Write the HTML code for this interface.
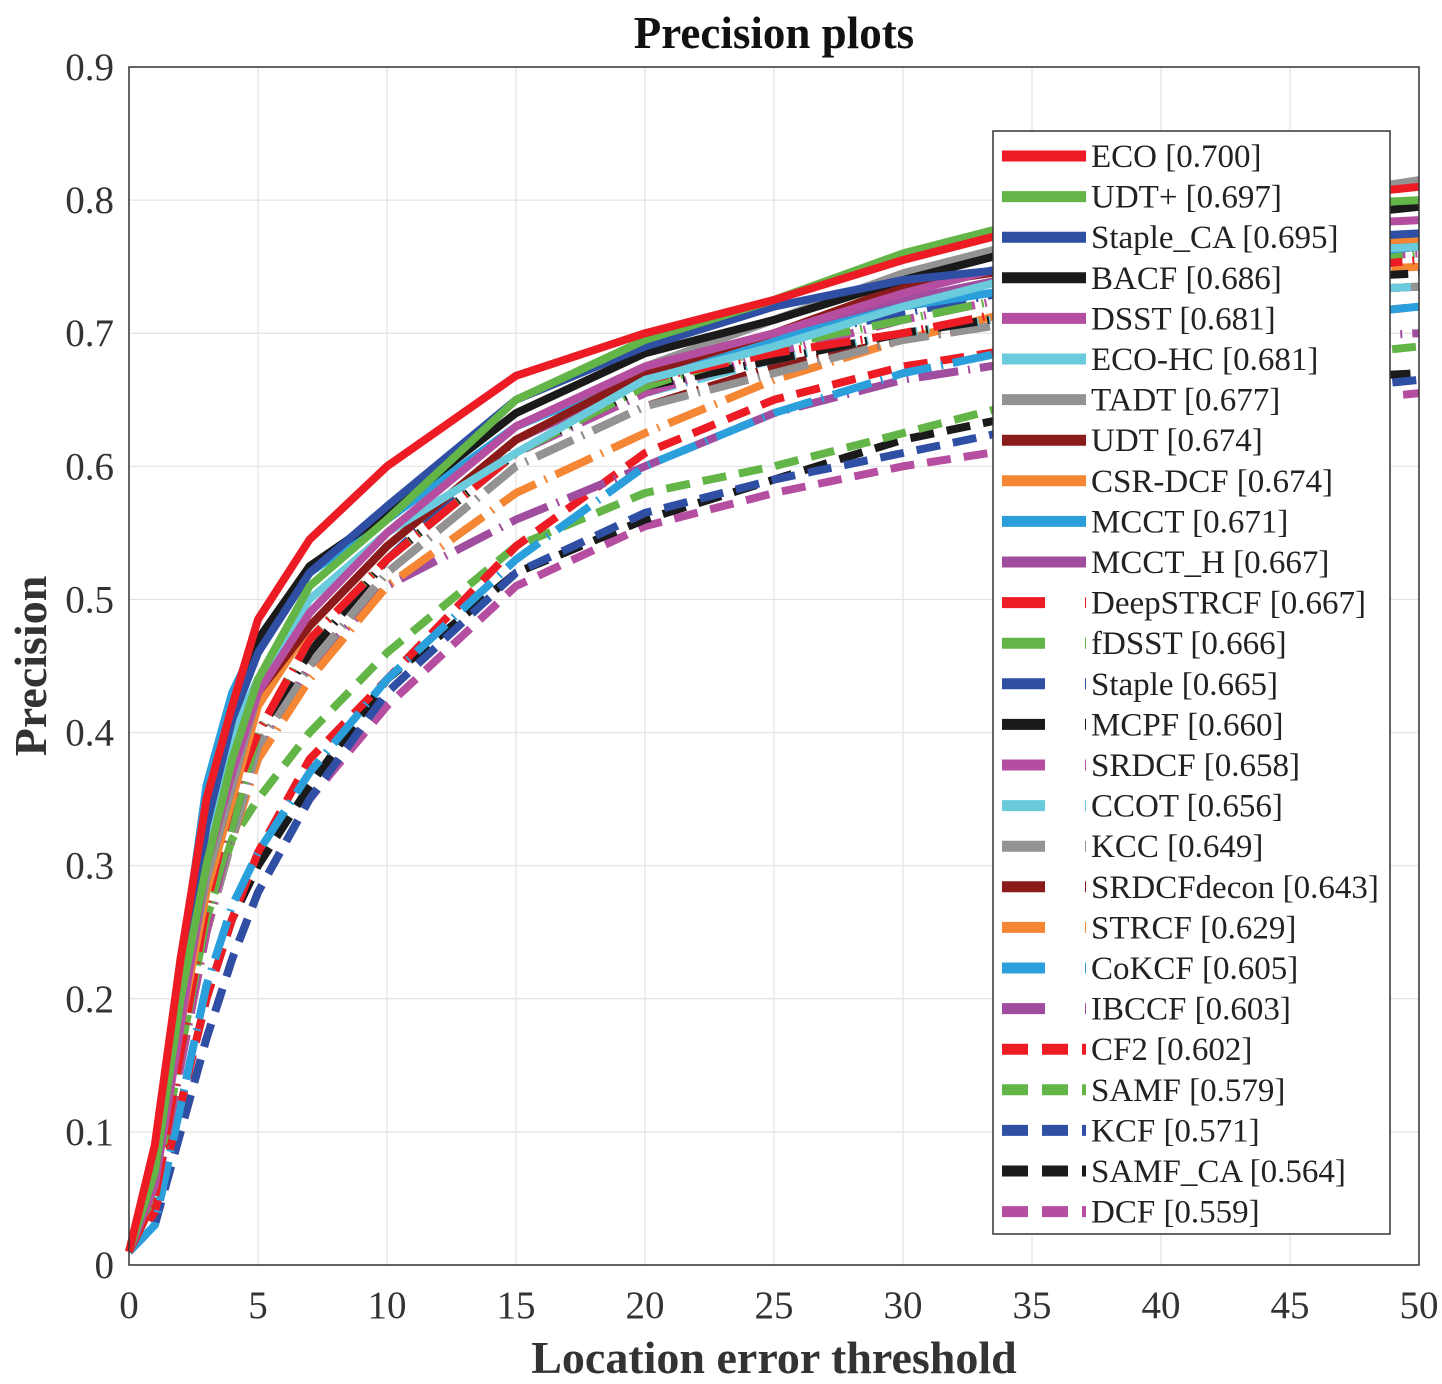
<!DOCTYPE html>
<html><head><meta charset="utf-8"><style>
body{margin:0;background:#fff}
svg{display:block;font-family:"Liberation Serif",serif}
</style></head><body>
<svg id="c" width="1442" height="1384" xmlns="http://www.w3.org/2000/svg">
<rect width="1442" height="1384" fill="#fff"/>
<g id="grid"></g><g id="series"></g><g id="axes"></g><g id="legend"></g>
</svg>
<script>
const thresholds=[0,1,2,3,4,5,7,10,15,20,25,30,35,40,45,50];
const names=["ECO [0.700]","UDT+ [0.697]","Staple_CA [0.695]","BACF [0.686]","DSST [0.681]","ECO-HC [0.681]","TADT [0.677]","UDT [0.674]","CSR-DCF [0.674]","MCCT [0.671]","MCCT_H [0.667]","DeepSTRCF [0.667]","fDSST [0.666]","Staple [0.665]","MCPF [0.660]","SRDCF [0.658]","CCOT [0.656]","KCC [0.649]","SRDCFdecon [0.643]","STRCF [0.629]","CoKCF [0.605]","IBCCF [0.603]","CF2 [0.602]","SAMF [0.579]","KCF [0.571]","SAMF_CA [0.564]","DCF [0.559]"];
const colors=["#ED1C24","#62B546","#2E4FA3","#1a1a1a","#B54EA0","#6ACBDC","#939393","#8B1A1A","#F58634","#2A9FDC","#A04C9F","#ED1C24","#62B546","#2E4FA3","#1a1a1a","#B54EA0","#6ACBDC","#939393","#8B1A1A","#F58634","#2A9FDC","#A04C9F","#ED1C24","#62B546","#2E4FA3","#1a1a1a","#B54EA0"];
const styles=["s","s","s","s","s","s","s","s","s","s","s","dd","dd","dd","dd","dd","dd","dd","dd","dd","dd","dd","d","d","d","d","d"];
const v0=[0.01,0.09,0.23,0.35,0.42,0.485,0.545,0.60,0.668,0.70,0.725,0.755,0.78,0.79,0.80,0.81];
const v1=[0.01,0.07,0.2,0.3,0.38,0.44,0.51,0.56,0.65,0.695,0.725,0.76,0.785,0.79,0.795,0.80];
const v2=[0.01,0.07,0.2,0.33,0.41,0.46,0.52,0.57,0.65,0.69,0.72,0.74,0.75,0.76,0.77,0.775];
const v3=[0.01,0.08,0.23,0.34,0.41,0.47,0.525,0.565,0.64,0.685,0.71,0.74,0.765,0.775,0.785,0.795];
const v4=[0.01,0.06,0.18,0.3,0.37,0.43,0.49,0.55,0.63,0.675,0.70,0.73,0.755,0.77,0.78,0.785];
const v5=[0.01,0.07,0.2,0.32,0.4,0.44,0.5,0.55,0.61,0.665,0.69,0.72,0.745,0.755,0.76,0.765];
const v6=[0.01,0.06,0.19,0.29,0.36,0.43,0.49,0.55,0.63,0.675,0.71,0.745,0.77,0.785,0.80,0.815];
const v7=[0.01,0.06,0.19,0.29,0.36,0.43,0.48,0.54,0.62,0.67,0.70,0.735,0.75,0.755,0.76,0.765];
const v8=[0.01,0.06,0.18,0.28,0.35,0.42,0.48,0.54,0.62,0.67,0.70,0.735,0.75,0.76,0.765,0.77];
const v9=[0.01,0.08,0.22,0.36,0.43,0.47,0.52,0.56,0.63,0.67,0.695,0.72,0.735,0.745,0.755,0.765];
const v10=[0.01,0.06,0.18,0.29,0.37,0.43,0.48,0.54,0.62,0.665,0.70,0.725,0.745,0.755,0.76,0.765];
const v11=[0.01,0.05,0.16,0.27,0.35,0.40,0.47,0.53,0.61,0.665,0.685,0.70,0.72,0.735,0.745,0.755];
const v12=[0.01,0.05,0.16,0.26,0.33,0.40,0.47,0.53,0.61,0.66,0.69,0.71,0.73,0.74,0.75,0.76];
const v13=[0.01,0.05,0.16,0.26,0.34,0.40,0.47,0.53,0.62,0.665,0.695,0.715,0.735,0.745,0.755,0.765];
const v14=[0.01,0.05,0.16,0.26,0.33,0.40,0.46,0.53,0.61,0.66,0.68,0.70,0.715,0.73,0.74,0.745];
const v15=[0.01,0.05,0.15,0.25,0.33,0.40,0.46,0.53,0.61,0.655,0.685,0.71,0.73,0.745,0.755,0.76];
const v16=[0.01,0.05,0.16,0.26,0.33,0.40,0.46,0.53,0.61,0.655,0.68,0.70,0.715,0.725,0.73,0.735];
const v17=[0.01,0.05,0.15,0.25,0.32,0.39,0.45,0.52,0.60,0.645,0.67,0.695,0.71,0.72,0.73,0.735];
const v18=[0.01,0.05,0.15,0.25,0.32,0.39,0.45,0.52,0.60,0.645,0.675,0.695,0.71,0.72,0.73,0.735];
const v19=[0.01,0.05,0.15,0.25,0.32,0.38,0.44,0.51,0.58,0.625,0.665,0.695,0.72,0.735,0.745,0.75];
const v20=[0.01,0.03,0.12,0.21,0.27,0.31,0.37,0.44,0.53,0.60,0.64,0.67,0.69,0.70,0.71,0.72];
const v21=[0.01,0.05,0.15,0.25,0.32,0.38,0.45,0.51,0.56,0.60,0.64,0.665,0.68,0.69,0.695,0.70];
const v22=[0.01,0.04,0.12,0.2,0.26,0.31,0.38,0.44,0.54,0.61,0.65,0.675,0.69,0.70,0.71,0.72];
const v23=[0.01,0.05,0.16,0.26,0.32,0.35,0.40,0.46,0.54,0.58,0.60,0.625,0.65,0.665,0.68,0.69];
const v24=[0.01,0.03,0.10,0.17,0.23,0.28,0.35,0.43,0.52,0.565,0.59,0.61,0.63,0.645,0.655,0.665];
const v25=[0.01,0.04,0.12,0.2,0.26,0.30,0.36,0.44,0.52,0.56,0.59,0.62,0.64,0.655,0.665,0.67];
const v26=[0.01,0.03,0.10,0.17,0.23,0.28,0.35,0.42,0.51,0.555,0.58,0.60,0.615,0.63,0.645,0.655];
const values=[v0,v1,v2,v3,v4,v5,v6,v7,v8,v9,v10,v11,v12,v13,v14,v15,v16,v17,v18,v19,v20,v21,v22,v23,v24,v25,v26];
const xTicks=[0,5,10,15,20,25,30,35,40,45,50];
const yTicks=[0,0.1,0.2,0.3,0.4,0.5,0.6,0.7,0.8,0.9];

const NS="http://www.w3.org/2000/svg";
const L=129,R=1419,T=67,B=1265;
const xs=v=>L+(v/50)*(R-L);
const ys=v=>B-(v/0.9)*(B-T);
function mk(tag,attrs,parent,text){const e=document.createElementNS(NS,tag);for(const k in attrs)e.setAttribute(k,attrs[k]);if(text!==undefined)e.textContent=text;parent.appendChild(e);return e;}
const dash={s:"none",dd:"40 10 2 10",d:"24 13"};
const grid=document.getElementById('grid');
xTicks.forEach(t=>{const l=mk('line',{x1:xs(t),x2:xs(t),y1:T,y2:B,stroke:'#e3e3e3','stroke-width':1.2},grid);

});
yTicks.forEach(t=>{const l=mk('line',{x1:L,x2:R,y1:ys(t),y2:ys(t),stroke:'#e3e3e3','stroke-width':1.2},grid);

});
const sg=document.getElementById('series');
for(let i=values.length-1;i>=0;i--){
 const pts=values[i].map((v,j)=>xs(thresholds[j]).toFixed(1)+','+ys(v).toFixed(1)).join(' ');
 const p=mk('polyline',{points:pts,fill:'none',stroke:colors[i],'stroke-width':8,'stroke-linejoin':'round','stroke-dasharray':dash[styles[i]]},sg);
 
 
}
const ax=document.getElementById('axes');
const fr=mk('rect',{x:L,y:T,width:R-L,height:B-T,fill:'none',stroke:'#333','stroke-width':1.5},ax);


xTicks.forEach(t=>{const e=mk('text',{x:xs(t),y:1318,'font-size':39,'text-anchor':'middle',fill:'#333'},ax,String(t));

});
yTicks.forEach(t=>{const e=mk('text',{x:114,y:ys(t)+13,'font-size':39,'text-anchor':'end',fill:'#333'},ax,t===0?'0':t.toFixed(1));

});
let e=mk('text',{x:774,y:48,'font-size':45,'font-weight':'bold','text-anchor':'middle',fill:'#111'},ax,'Precision plots');


e=mk('text',{x:774,y:1373,'font-size':46,'font-weight':'bold','text-anchor':'middle',fill:'#333'},ax,'Location error threshold');


e=mk('text',{x:0,y:0,'font-size':46,'font-weight':'bold','text-anchor':'middle',fill:'#333',transform:'translate(46,666) rotate(-90)'},ax,'Precision');


const lg=document.getElementById('legend');
const box=mk('rect',{x:993,y:131,width:397,height:1103,fill:'#fff',stroke:'#333','stroke-width':1.5},lg);


names.forEach((n,i)=>{
 const yy=156+i*40.6;
 const g=mk('g',{},lg);
 
 
 mk('line',{x1:1002,x2:1086,y1:yy,y2:yy,stroke:colors[i],'stroke-width':11,'stroke-dasharray':styles[i]==='dd'?'43 40 2 40':(styles[i]==='d'?'26 14':'none')},g);
 mk('text',{x:1091,y:yy+11,'font-size':33,fill:'#222'},g,n);
});
</script>
</body></html>
